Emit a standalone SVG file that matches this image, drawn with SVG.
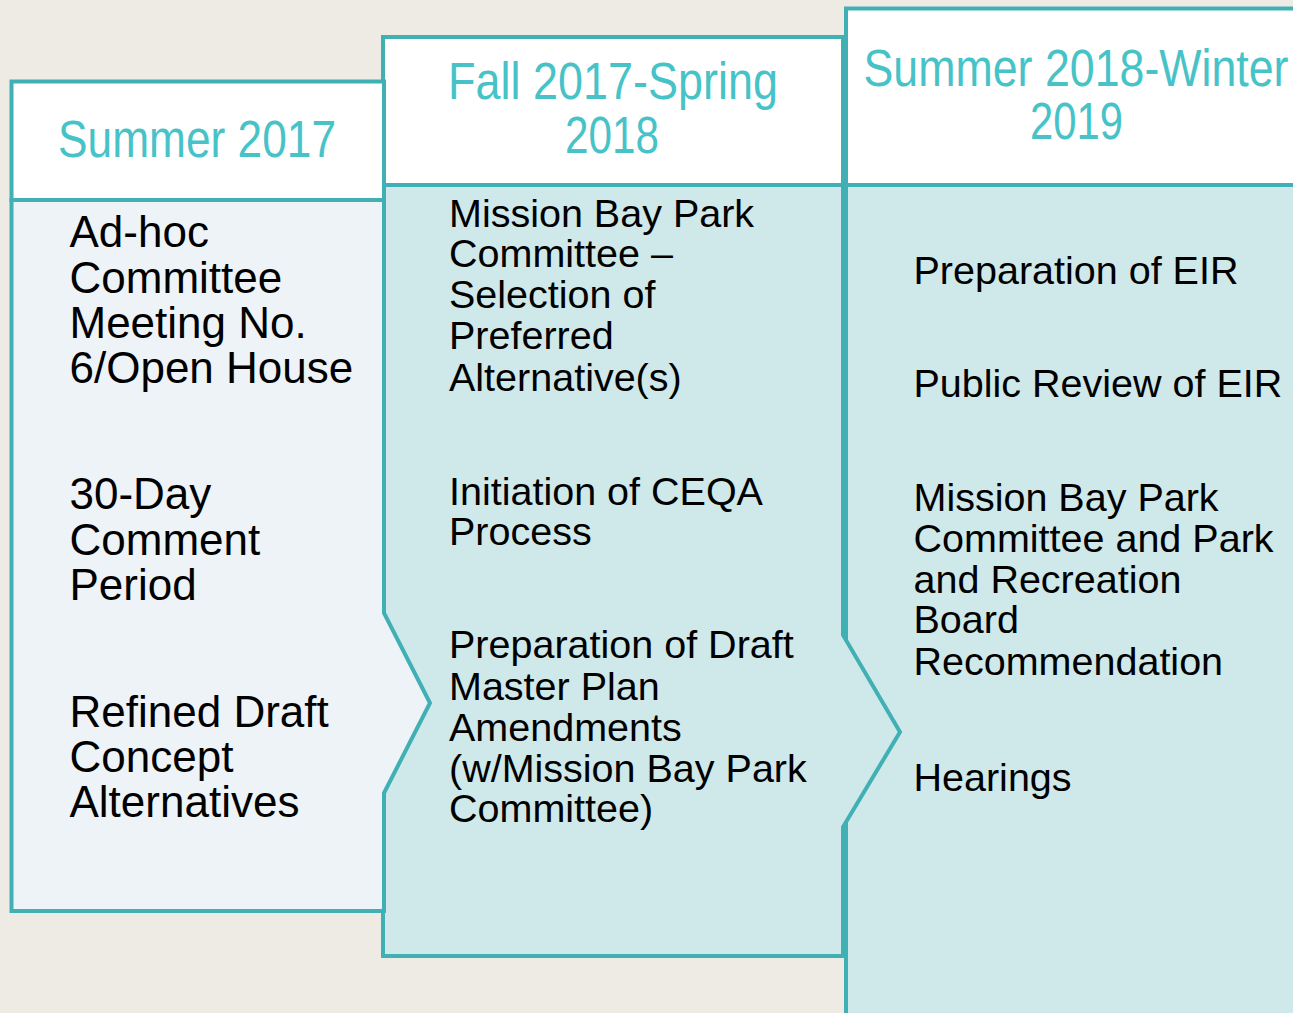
<svg xmlns="http://www.w3.org/2000/svg" width="1293" height="1013" viewBox="0 0 1293 1013">
<style>
.edge{stroke:#40B0B5;stroke-width:4;stroke-linejoin:miter}
.hdr{fill:#FFFFFF}
.b1{fill:#EDF3F6}
.b2{fill:#CFE8E9}
.title{font-family:"Liberation Sans Narrow","Arial Narrow","Liberation Sans",Arial,sans-serif;font-size:51px;fill:#47C3C8;text-anchor:middle}
.t1{font-family:"Liberation Sans",Arial,sans-serif;font-size:44px;fill:#000}
.t2{font-family:"Liberation Sans",Arial,sans-serif;font-size:39.5px;fill:#000}
</style>
<rect x="0" y="0" width="1293" height="1013" fill="#EEEBE4"/>
<g id="col3">
<rect class="hdr edge" x="846" y="8.5" width="500" height="176.5"/>
<rect class="b2 edge" x="846" y="185" width="500" height="900"/>
<text class="title" x="1076" y="86" textLength="425" lengthAdjust="spacingAndGlyphs">Summer 2018-Winter</text>
<text class="title" x="1076.5" y="139.3" textLength="93" lengthAdjust="spacingAndGlyphs">2019</text>
<text class="t2" x="913.5" y="284.3">Preparation of EIR</text>
<text class="t2" x="913.5" y="396.7">Public Review of EIR</text>
<text class="t2" x="913.5" y="510.7">Mission Bay Park</text>
<text class="t2" x="913.5" y="552">Committee and Park</text>
<text class="t2" x="913.5" y="592.7">and Recreation</text>
<text class="t2" x="913.5" y="633.3">Board</text>
<text class="t2" x="913.5" y="675">Recommendation</text>
<text class="t2" x="913.5" y="790.7">Hearings</text>
</g>
<g id="col2">
<rect class="hdr edge" x="383" y="37" width="460" height="148"/>
<polygon class="b2 edge" points="383,185 843,185 843,635 900,732 843,827 843,956 383,956"/>
<text class="title" x="613" y="99.3" textLength="330" lengthAdjust="spacingAndGlyphs">Fall 2017-Spring</text>
<text class="title" x="612" y="153.3" textLength="94" lengthAdjust="spacingAndGlyphs">2018</text>
<text class="t2" x="449" y="226.7">Mission Bay Park</text>
<text class="t2" x="449" y="267.3">Committee –</text>
<text class="t2" x="449" y="308.3">Selection of</text>
<text class="t2" x="449" y="349.3">Preferred</text>
<text class="t2" x="449" y="390.7">Alternative(s)</text>
<text class="t2" x="449" y="505">Initiation of CEQA</text>
<text class="t2" x="449" y="545">Process</text>
<text class="t2" x="449" y="658.3">Preparation of Draft</text>
<text class="t2" x="449" y="700">Master Plan</text>
<text class="t2" x="449" y="740.7">Amendments</text>
<text class="t2" x="449" y="781.7">(w/Mission Bay Park</text>
<text class="t2" x="449" y="821.7">Committee)</text>
</g>
<g id="col1">
<rect class="hdr edge" x="11.5" y="81.5" width="372.5" height="118.5"/>
<polygon class="b1 edge" points="11.5,200 384,200 384,613 430,703 384,793 384,911 11.5,911"/>
<text class="title" x="197" y="156.7" textLength="278" lengthAdjust="spacingAndGlyphs">Summer 2017</text>
<text class="t1" x="69.5" y="246.7">Ad-hoc</text>
<text class="t1" x="69.5" y="292.7">Committee</text>
<text class="t1" x="69.5" y="337.5">Meeting No.</text>
<text class="t1" x="69.5" y="383">6/Open House</text>
<text class="t1" x="69.5" y="508.5">30-Day</text>
<text class="t1" x="69.5" y="554.5">Comment</text>
<text class="t1" x="69.5" y="600">Period</text>
<text class="t1" x="69.5" y="727.3">Refined Draft</text>
<text class="t1" x="69.5" y="772">Concept</text>
<text class="t1" x="69.5" y="817.3">Alternatives</text>
</g>
<g id="connectors"/>
</svg>
